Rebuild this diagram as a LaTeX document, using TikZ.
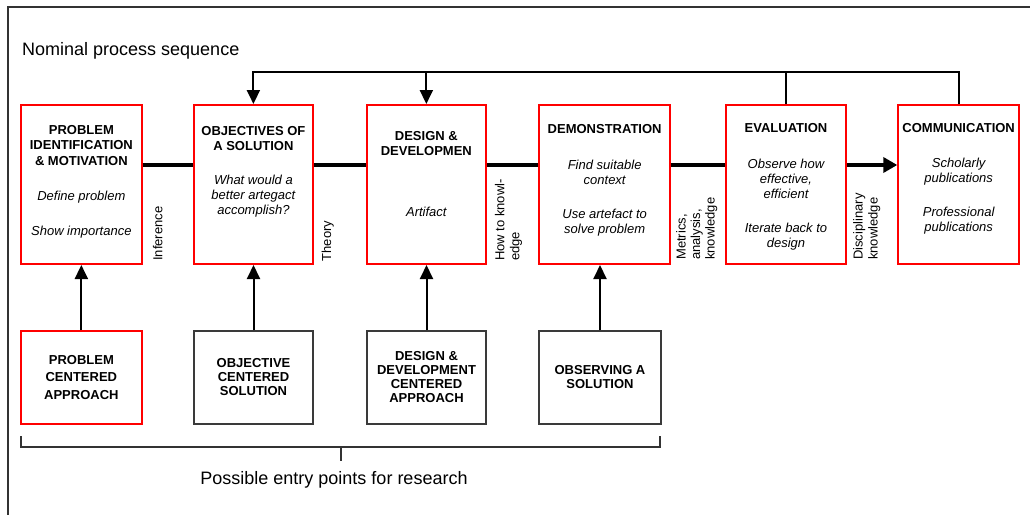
\documentclass[tikz,border=0pt]{standalone}
\usepackage{fontspec}
\setmainfont{Liberation Sans}
\usetikzlibrary{arrows.meta}
\definecolor{stagered}{HTML}{FF0000}
\definecolor{framegray}{HTML}{333333}
\definecolor{entrygray}{HTML}{3A3A3A}
\begin{document}
\begin{tikzpicture}[x=1pt,y=-1pt,
  stagebox/.style={draw=stagered,line width=2pt,fill=white,minimum height=159pt,inner sep=0pt},
  entrybox/.style={draw=entrygray,line width=1.5pt,fill=white,minimum height=93pt,inner sep=0pt,
    align=center,font=\fontsize{13}{14}\selectfont\bfseries},
  stagetitle/.style={align=center,inner sep=0pt,font=\fontsize{13}{15.3}\selectfont\bfseries},
  stagebody/.style={align=center,inner sep=0pt,font=\fontsize{13}{15}\selectfont\itshape},
  flowlabel/.style={rotate=90,anchor=base west,inner sep=0pt,font=\fontsize{13}{15}\selectfont},
  captiontext/.style={inner sep=0pt,font=\fontsize{18}{21}\selectfont},
  mainflow/.style={line width=4.8pt,line cap=butt},
  feedback/.style={line width=2pt},
  downtip/.style={-{Triangle[length=14pt,width=13pt]}},
  uparrow/.style={line width=2pt,-{Triangle[length=14pt,width=13pt]}},
  bracketline/.style={line width=2pt,framegray},
]
\useasboundingbox (0,0) rectangle (1030,514);

% outer frame (top and left edges)
\coordinate (frameTL) at (8,7);
\draw[line width=2pt,framegray] (8,520) -- (frameTL) -- (1036,7);

\node[captiontext,anchor=base west] (nominal) at (22,55) {Nominal process sequence};

% process stages
\node[stagebox,minimum width=120.7pt] (p1) at (81.35,184.5) {};
\node[stagebox,minimum width=119.8pt] (p2) at (253.4,184.5) {};
\node[stagebox,minimum width=119.3pt] (p3) at (426.35,184.5) {};
\node[stagebox,minimum width=130.7pt] (p4) at (604.65,184.5) {};
\node[stagebox,minimum width=120pt]   (p5) at (786,184.5) {};
\node[stagebox,minimum width=120.7pt] (p6) at (958.65,184.5) {};

\node[stagetitle] (p1t) at (81.35,145.5) {PROBLEM\\IDENTIFICATION\\\& MOTIVATION};
\node[stagebody]  (p1a) at (81.35,196.7) {Define problem};
\node[stagebody]  (p1b) at (81.35,232) {Show importance};

\node[stagetitle] (p2t) at (253.4,138.2) {OBJECTIVES OF\\A SOLUTION};
\node[stagebody]  (p2a) at (253.4,196.5) {What would a\\better artegact\\accomplish?};

\node[stagetitle] (p3t) at (426.35,143.4) {DESIGN \&\\DEVELOPMEN};
\node[stagebody]  (p3a) at (426.35,211.7) {Artifact};

\node[stagetitle] (p4t) at (604.65,129.3) {DEMONSTRATION};
\node[stagebody]  (p4a) at (604.65,172.2) {Find suitable\\context};
\node[stagebody]  (p4b) at (604.65,223) {Use artefact to\\solve problem};

\node[stagetitle] (p5t) at (786,127.7) {EVALUATION};
\node[stagebody]  (p5a) at (786,178.5) {Observe how\\effective,\\efficient};
\node[stagebody]  (p5b) at (786,237) {Iterate back to\\design};

\node[stagetitle] (p6t) at (958.65,127.7) {COMMUNICATION};
\node[stagebody]  (p6a) at (958.65,171.3) {Scholarly\\publications};
\node[stagebody]  (p6b) at (958.65,221) {Professional\\publications};

% main process flow
\coordinate (flow) at (0,165);
\draw[mainflow] (p1.east |- flow) -- (p2.west |- flow);
\draw[mainflow] (p2.east |- flow) -- (p3.west |- flow);
\draw[mainflow] (p3.east |- flow) -- (p4.west |- flow);
\draw[mainflow] (p4.east |- flow) -- (p5.west |- flow);
\draw[mainflow,-{Triangle[length=14pt,width=15pt]}] (p5.east |- flow) -- (p6.west |- flow);

% labels on the flow
\node[flowlabel] (l1) at (162.3,261) {Inference};
\node[flowlabel] (l2) at (331,261.5) {Theory};
\node[flowlabel] (l3a) at (504.3,261) {How to knowl-};
\node[flowlabel] (l3b) at (519.3,261) {edge};
\node[flowlabel] (l4a) at (685.5,260) {Metrics,};
\node[flowlabel] (l4b) at (700,260) {analysis,};
\node[flowlabel] (l4c) at (714.5,260) {knowledge};
\node[flowlabel] (l5a) at (862.7,260) {Disciplinary};
\node[flowlabel] (l5b) at (877.5,260) {knowledge};

% iteration feedback
\coordinate (fb) at (0,72);
\draw[feedback,downtip] (p6.north) |- (p2.north |- fb) -- (p2.north);
\draw[feedback] (p5.north) -- (p5.north |- fb);
\draw[feedback,downtip] (p3.north |- fb) -- (p3.north);

% entry points
\node[entrybox,minimum width=120.7pt,draw=stagered,line width=2pt,
      font=\fontsize{13}{17.5}\selectfont\bfseries] (e1) at (81.35,377.5) {PROBLEM\\CENTERED\\APPROACH};
\node[entrybox,minimum width=119pt] (e2) at (253.5,377.5) {OBJECTIVE\\CENTERED\\SOLUTION};
\node[entrybox,minimum width=119pt] (e3) at (426.5,377.5) {DESIGN \&\\DEVELOPMENT\\CENTERED\\APPROACH};
\node[entrybox,minimum width=122pt] (e4) at (600,377.5) {OBSERVING A\\SOLUTION};

\draw[uparrow] (e1.north) -- (e1.north |- p1.south);
\draw[uparrow] (e2.north) -- (e2.north |- p2.south);
\draw[uparrow] (e3.north) -- (e3.north |- p3.south);
\draw[uparrow] (e4.north) -- (e4.north |- p4.south);

% bracket over the entry points
\coordinate (bL) at (21,436);
\coordinate (bR) at (660,436);
\coordinate (bM) at (340.5,447);
\draw[bracketline] (bL) -- (bL |- bM) -- (bR |- bM) -- (bR);
\draw[bracketline] (bM) -- ++(0,14);
\node[captiontext,anchor=base] (entrycap) at (334,484) {Possible entry points for research};
\end{tikzpicture}
\end{document}
